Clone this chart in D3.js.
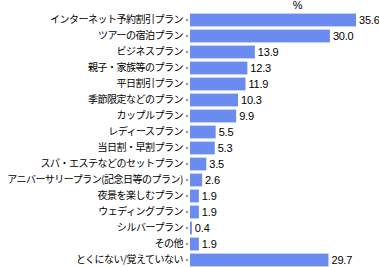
<!DOCTYPE html>
<html><head><meta charset="utf-8">
<script src="https://cdn.jsdelivr.net/npm/d3@7"></script>
<style>
html,body{margin:0;padding:0;background:#fff;}
svg{display:block;}
</style></head>
<body>
<script>
const categories = ["インターネット予約割引プラン","ツアーの宿泊プラン","ビジネスプラン","親子・家族等のプラン","平日割引プラン","季節限定などのプラン","カップルプラン","レディースプラン","当日割・早割プラン","スパ・エステなどのセットプラン","アニバーサリープラン(記念日等のプラン)","夜景を楽しむプラン","ウェディングプラン","シルバープラン","その他","とくにない/覚えていない"];
const values = [35.6,30.0,13.9,12.3,11.9,10.3,9.9,5.5,5.3,3.5,2.6,1.9,1.9,0.4,1.9,29.7];
const valueLabels = ["35.6","30.0","13.9","12.3","11.9","10.3","9.9","5.5","5.3","3.5","2.6","1.9","1.9","0.4","1.9","29.7"];
const unitLabel = "%";

const W = 379, H = 267;
const svg = d3.select("body").append("svg").attr("width", W).attr("height", H);

const x = d3.scaleLinear().domain([0, 35.6]).range([190, 356]);
const y = d3.scaleBand().domain(categories).range([12, 268]).paddingInner(0.2).paddingOuter(0.1);

const axis = d3.axisLeft(y).tickSize(2).tickPadding(3);
const gA = svg.append("g").attr("transform", "translate(188,0)").call(axis);
gA.select(".domain").remove();
gA.selectAll(".tick line").attr("stroke", "#333");
gA.selectAll(".tick text")
  .attr("font-family", "'Noto Sans CJK JP', sans-serif")
  .attr("font-size", "10px")
  .attr("letter-spacing", "-0.5px")
  .attr("fill", "#000");

svg.append("g").selectAll("rect").data(values).join("rect")
  .attr("x", x(0))
  .attr("y", (d, i) => y(categories[i]))
  .attr("width", d => x(d) - x(0))
  .attr("height", y.bandwidth())
  .attr("fill", "#6a8cf0");

svg.append("g").selectAll("text").data(values).join("text")
  .attr("x", d => x(d) + 3)
  .attr("y", (d, i) => y(categories[i]) + y.bandwidth() / 2)
  .attr("dy", "0.36em")
  .attr("font-family", "'Liberation Sans', Arial, sans-serif")
  .attr("font-size", "11px")
  .attr("letter-spacing", "-0.2px")
  .attr("fill", "#000")
  .text((d, i) => valueLabels[i]);

svg.append("text")
  .attr("x", x(23.1))
  .attr("y", 9)
  .attr("text-anchor", "middle")
  .attr("font-family", "'Liberation Sans', Arial, sans-serif")
  .attr("font-size", "11px")
  .attr("fill", "#000")
  .text(unitLabel);
</script>
</body></html>
